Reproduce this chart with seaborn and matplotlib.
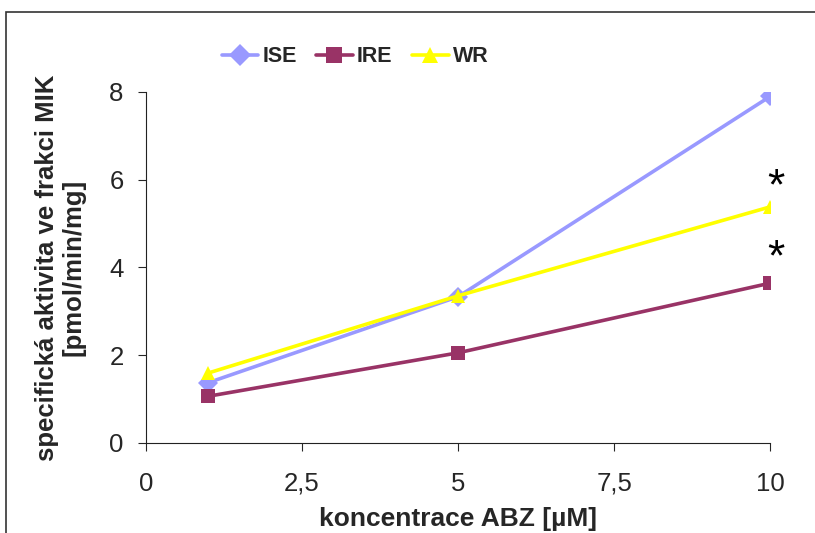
import matplotlib
matplotlib.use("Agg")
from matplotlib import pyplot as plt
from matplotlib.patches import Rectangle
import seaborn as sns
import pandas as pd

# data
conc = [1, 5, 10]
ise = [1.37, 3.33, 7.90]
ire = [1.06, 2.05, 3.64]
wr = [1.59, 3.35, 5.38]
series_names = ['ISE', 'IRE', 'WR']
star_pos = [6.1, 4.47]

sns.set_style("ticks")
plt.rcParams['font.family'] = ['Liberation Sans', 'DejaVu Sans']

df = pd.DataFrame({
    'konc': conc * 3,
    'val': ise + ire + wr,
    'serie': sum([[n] * len(conc) for n in series_names], []),
})

palette = {'ISE': '#9999FF', 'IRE': '#993366', 'WR': '#FFFF00'}
markers = {'ISE': 'D', 'IRE': 's', 'WR': '^'}

fig = plt.figure(figsize=(8.15, 5.33), dpi=100)
ax = fig.add_axes([0.179, 0.1694, 0.766, 0.658])

sns.lineplot(data=df, x='konc', y='val', hue='serie', style='serie',
             palette=palette, markers=markers, dashes=False,
             linewidth=2.6, markersize=10.5, markeredgewidth=0, ax=ax)

for y in star_pos:
    ax.annotate('*', (10, y), xytext=(4, -9), textcoords='offset points',
                fontsize=32, ha='center', va='center', color='black')

ax.set_xlim(0, 10)
ax.set_ylim(0, 8)
ax.set_xticks([0, 2.5, 5, 7.5, 10])
ax.set_xticklabels(['0', '2,5', '5', '7,5', '10'])
ax.set_yticks([0, 2, 4, 6, 8])
ax.tick_params(axis='x', labelsize=18.5, pad=15, length=6, width=0.8, direction='out')
ax.tick_params(axis='y', labelsize=18.5, pad=10, length=6, width=0.8, direction='out')
for s in ['top', 'right']:
    ax.spines[s].set_visible(False)
for s in ['left', 'bottom']:
    ax.spines[s].set_linewidth(0.8)
    ax.spines[s].set_color('#222222')

ax.set_xlabel('koncentrace ABZ [µM]', fontsize=19, fontweight='bold', labelpad=8)
ax.set_ylabel('specifická aktivita ve frakci MIK\n[pmol/min/mg]', fontsize=18.5,
              fontweight='bold', labelpad=17, linespacing=1.15)

handles, labels = ax.get_legend_handles_labels()
ax.legend(handles, labels, loc='center', bbox_to_anchor=(0.335, 1.10), ncol=3,
          frameon=False, prop={'size': 15.5, 'weight': 'bold'}, handlelength=1.7,
          handletextpad=0.2, columnspacing=0.9, borderaxespad=0, markerscale=1.1)

# chart area border, as in the source image
fig.patches.append(Rectangle((0.0074, -0.1), 1.2, 0.9775 + 0.1, transform=fig.transFigure,
                             fill=False, edgecolor='#333333', linewidth=1.2))

plt.savefig('out.png', dpi=100)
